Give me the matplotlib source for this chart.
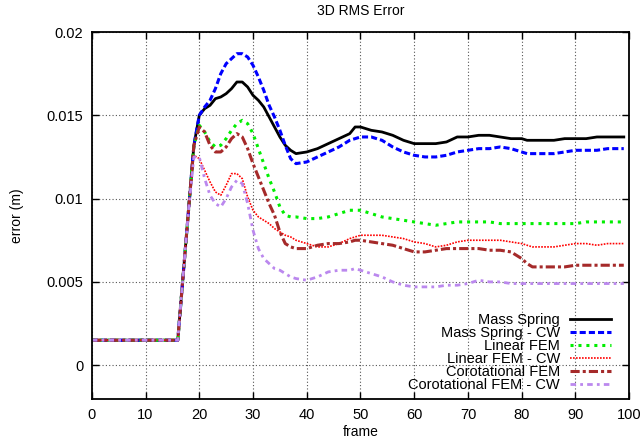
import numpy as np
import matplotlib
matplotlib.use("Agg")
import matplotlib.pyplot as plt

plt.rcParams['font.family'] = ['Liberation Sans', 'DejaVu Sans']

frames = [0, 16, 17, 18, 19, 20, 21, 22, 23, 24, 25, 26, 27, 28, 29, 30, 31, 32, 33, 34,
          35, 36, 37, 38, 40, 42, 44, 46, 48, 49, 50, 52, 54, 56, 58, 60, 62, 64, 66, 68,
          70, 72, 74, 76, 78, 80, 81, 82, 84, 86, 88, 90, 92, 94, 96, 98, 99]

mass_spring = [.0015, .0015, .0054, .0093, .0132, .0150, .0154, .0156, .0160, .0161,
               .0163, .0166, .0170, .0170, .0167, .0162, .0159, .0155, .0149, .0143,
               .0137, .0132, .0129, .0127, .0128, .0130, .0133, .0136, .0139, .0143,
               .0143, .0141, .0140, .0138, .0135, .0133, .0133, .0133, .0134, .0137,
               .0137, .0138, .0138, .0137, .0136, .0136, .0135, .0135, .0135, .0135,
               .0136, .0136, .0136, .0137, .0137, .0137, .0137]

mass_spring_cw = [.0015, .0015, .0054, .0093, .0132, .0150, .0155, .0159, .0166, .0175,
                  .0181, .0184, .0187, .0187, .0185, .0180, .0173, .0165, .0156, .0149,
                  .0141, .0132, .0124, .0121, .0122, .0125, .0128, .0131, .0135, .0136,
                  .0137, .0137, .0135, .0131, .0128, .0126, .0125, .0125, .0126, .0128,
                  .0129, .0130, .0130, .0131, .0130, .0128, .0127, .0127, .0127, .0127,
                  .0128, .0129, .0129, .0129, .0130, .0130, .0130]

linear_fem = [.0015, .0015, .0054, .0093, .0132, .0144, .0140, .0134, .0131, .0132,
              .0136, .0141, .0145, .0147, .0145, .0139, .0130, .0121, .0112, .0104,
              .0095, .0090, .0089, .0089, .0088, .0088, .0089, .0091, .0093, .0093,
              .0093, .0091, .0089, .0088, .0087, .0086, .0085, .0084, .0085, .0086,
              .0086, .0086, .0086, .0085, .0085, .0085, .0085, .0085, .0085, .0085,
              .0085, .0085, .0086, .0086, .0086, .0086, .0086]

linear_fem_cw = [.0015, .0015, .0054, .0093, .0126, .0124, .0117, .0110, .0104, .0102,
                 .0108, .0115, .0115, .0112, .0101, .0093, .0089, .0087, .0085, .0082,
                 .0080, .0078, .0077, .0075, .0073, .0071, .0071, .0073, .0076, .0077,
                 .0078, .0078, .0078, .0077, .0076, .0074, .0073, .0071, .0072, .0074,
                 .0075, .0075, .0075, .0075, .0074, .0073, .0072, .0071, .0071, .0071,
                 .0072, .0073, .0073, .0072, .0073, .0073, .0073]

corot_fem = [.0015, .0015, .0054, .0093, .0132, .0143, .0140, .0132, .0128, .0128,
             .0131, .0136, .0139, .0137, .0130, .0121, .0113, .0105, .0097, .0090,
             .0080, .0073, .0071, .0070, .0070, .0072, .0073, .0073, .0074, .0075,
             .0075, .0074, .0073, .0072, .0070, .0068, .0068, .0069, .0070, .0070,
             .0070, .0070, .0069, .0069, .0068, .0064, .0061, .0059, .0059, .0059,
             .0059, .0060, .0060, .0060, .0060, .0060, .0060]

corot_fem_cw = [.0015, .0015, .0054, .0093, .0125, .0125, .0112, .0102, .0097, .0095,
                .0100, .0107, .0111, .0109, .0097, .0081, .0070, .0064, .0061, .0058,
                .0057, .0055, .0053, .0052, .0051, .0053, .0056, .0057, .0057, .0058,
                .0057, .0055, .0053, .0050, .0048, .0047, .0047, .0047, .0048, .0048,
                .0049, .0051, .0050, .0050, .0049, .0049, .0049, .0049, .0049, .0049,
                .0049, .0049, .0049, .0049, .0049, .0049, .0049]

labels = ['Mass Spring', 'Mass Spring - CW', 'Linear FEM', 'Linear FEM - CW',
          'Corotational FEM', 'Corotational FEM - CW']

fig = plt.figure(figsize=(6.42, 4.46), dpi=100)
ax = fig.add_axes([0.143, 0.1065, 0.837, 0.8217])

ax.plot(frames, mass_spring, color='black', lw=2, ls='-', label=labels[0])
ax.plot(frames, mass_spring_cw, color='#0000ff', lw=2.2, ls=(0, (2, 1)), label=labels[1])
ax.plot(frames, linear_fem, color='#00ee00', lw=2.2, ls=(0, (1, 1.6)), label=labels[2])
ax.plot(frames, linear_fem_cw, color='#ff0000', lw=1.2, ls=(0, (1, 0.8)), label=labels[3])
ax.plot(frames, corot_fem, color='#a52a2a', lw=2.2, ls=(0, (3, 1, 1, 1)), label=labels[4])
ax.plot(frames, corot_fem_cw, color='#bb88ee', lw=2, ls=(0, (2, 1.5, 1, 1.5)), label=labels[5])

ax.set_xlim(0, 100)
ax.set_ylim(-0.002, 0.02)
ax.set_xticks(np.arange(0, 101, 10))
ax.set_yticks([0, 0.005, 0.01, 0.015, 0.02])
ax.set_yticklabels(['0', '0.005', '0.01', '0.015', '0.02'])
ax.grid(True, color='#555555', ls=(0, (1, 2)), lw=0.8)
ax.tick_params(direction='in', top=True, right=True, labelsize=10.5, length=5, width=1)
ax.tick_params(axis='x', pad=7)
ax.tick_params(axis='y', pad=6)
for s in ax.spines.values():
    s.set_linewidth(1.3)

ax.set_title('3D RMS Error', fontsize=10, pad=12)
ax.set_xlabel('frame', fontsize=10, labelpad=2)
ax.set_ylabel('error (m)', fontsize=10, labelpad=16)

ax.legend(loc='lower right', bbox_to_anchor=(0.966, 0.018), frameon=False,
          markerfirst=False, fontsize=10.5, labelspacing=-0.065, handlelength=2.8,
          handletextpad=0.7, borderpad=0, borderaxespad=0)

fig.savefig('out.png', dpi=100)
